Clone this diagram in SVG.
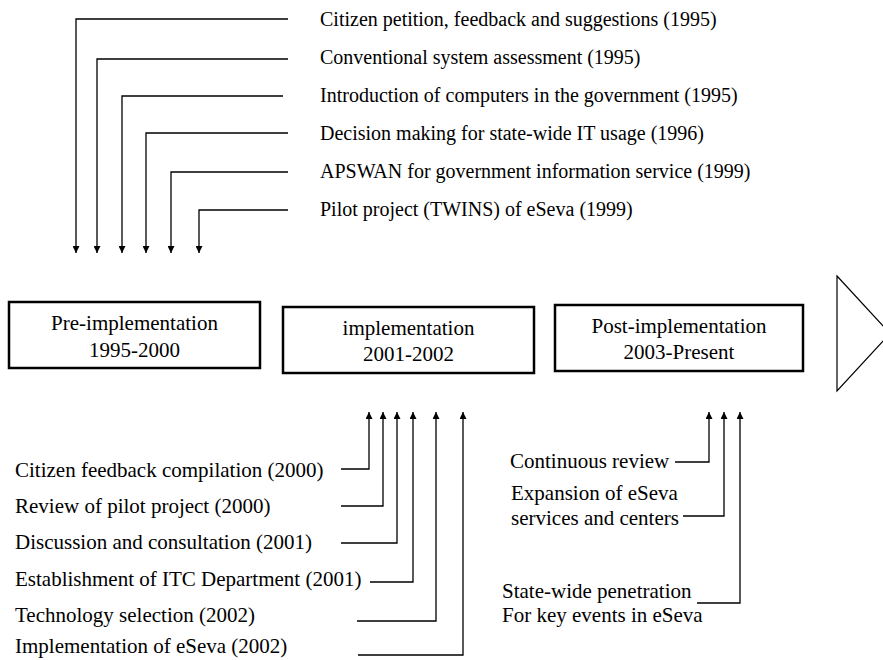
<svg xmlns="http://www.w3.org/2000/svg" width="883" height="660" viewBox="0 0 883 660">
<defs>
<marker id="ah" viewBox="0 0 10 10" refX="10" refY="5" markerWidth="8" markerHeight="7" markerUnits="userSpaceOnUse" orient="auto">
<path d="M0,0 L10,5 L0,10 z" fill="#000"/>
</marker>
<style>
text{font-family:"Liberation Serif","Times New Roman",serif;font-size:21px;fill:#000}
.t{font-size:20px}
.c{text-anchor:middle}
.e{text-anchor:end}
.box{fill:#fff;stroke:#000;stroke-width:2.5}
.ar{fill:none;stroke:#000;stroke-width:1.3;marker-end:url(#ah)}
</style>
</defs>
<rect width="883" height="660" fill="#fff"/>
<g id="connectors">
<polyline class="ar" points="288,19 76,19 76,253"/>
<polyline class="ar" points="288,59 97,59 97,253"/>
<polyline class="ar" points="283,96 122,96 122,253"/>
<polyline class="ar" points="288,133 146,133 146,253"/>
<polyline class="ar" points="288,172 171,172 171,253"/>
<polyline class="ar" points="288,210 199,210 199,253"/>
<polyline class="ar" points="341,469 369,469 369,412"/>
<polyline class="ar" points="341,506 383,506 383,412"/>
<polyline class="ar" points="341,543 397,543 397,412"/>
<polyline class="ar" points="370,582 413,582 413,412"/>
<polyline class="ar" points="357,621 436,621 436,412"/>
<polyline class="ar" points="358,655 463,655 463,412"/>
<polyline class="ar" points="675,462 709,462 709,412"/>
<polyline class="ar" points="683,516 724,516 724,412"/>
<polyline class="ar" points="697,603 740,603 740,412"/>
</g>
<g id="top-labels">
<text class="t" x="320" y="26">Citizen petition, feedback and suggestions (1995)</text>
<text class="t" x="320" y="64">Conventional system assessment (1995)</text>
<text class="t" x="320" y="102">Introduction of computers in the government (1995)</text>
<text class="t" x="320" y="140">Decision making for state-wide IT usage (1996)</text>
<text class="t" x="320" y="178">APSWAN for government information service (1999)</text>
<text class="t" x="320" y="216">Pilot project (TWINS) of eSeva (1999)</text>
</g>
<g id="pre">
<rect class="box" x="9" y="302" width="251" height="66"/>
<text class="c" x="134.5" y="330">Pre-implementation</text>
<text class="c" x="134.5" y="357">1995-2000</text>
</g>
<g id="impl">
<rect class="box" x="283" y="307" width="251" height="66"/>
<text class="c" x="408.5" y="335">implementation</text>
<text class="c" x="408.5" y="361">2001-2002</text>
</g>
<g id="post">
<rect class="box" x="555" y="305" width="248" height="66"/>
<text class="c" x="679" y="333">Post-implementation</text>
<text class="c" x="679" y="359">2003-Present</text>
</g>
<g id="next">
<polygon points="837,276 890,333.5 837,391" fill="#fff" stroke="#000" stroke-width="1.2"/>
</g>
<g id="bottom-labels">
<text x="15" y="477">Citizen feedback compilation (2000)</text>
<text x="15" y="513">Review of pilot project (2000)</text>
<text x="15" y="549">Discussion and consultation (2001)</text>
<text x="15" y="586">Establishment of ITC Department (2001)</text>
<text x="15" y="622">Technology selection (2002)</text>
<text x="15" y="653">Implementation of eSeva (2002)</text>
<text x="510" y="468">Continuous review</text>
<text x="511" y="500">Expansion of eSeva</text>
<text x="511" y="525">services and centers</text>
<text x="502" y="598">State-wide penetration</text>
<text x="502" y="622">For key events in eSeva</text>
</g>
</svg>
